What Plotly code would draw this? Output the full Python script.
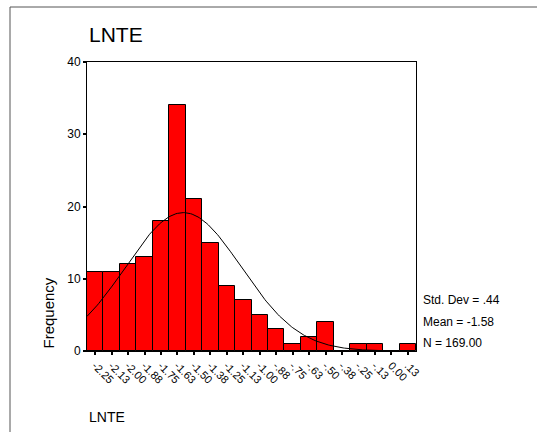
import math
import plotly.graph_objects as go

# ---- data ----
bin_centers = [-2.25, -2.125, -2.0, -1.875, -1.75, -1.625, -1.5, -1.375, -1.25, -1.125,
               -1.0, -0.875, -0.75, -0.625, -0.5, -0.375, -0.25, -0.125, 0.0, 0.125]
tick_labels = ["-2.25", "-2.13", "-2.00", "-1.88", "-1.75", "-1.63", "-1.50", "-1.38", "-1.25", "-1.13",
               "-1.00", "-.88", "-.75", "-.63", "-.50", "-.38", "-.25", "-.13", "0.00", ".13"]
frequencies = [11, 11, 12, 13, 18, 34, 21, 15, 9, 7, 5, 3, 1, 2, 4, 0, 1, 1, 0, 1]
BIN_WIDTH = 0.125
MEAN = -1.58
STD_DEV = 0.44
N = 169
y_ticks = [0, 10, 20, 30, 40]

# normal curve defined by the displayed statistics
curve_x = []
curve_y = []
x0 = bin_centers[0] - BIN_WIDTH / 2
x_end = -0.0625
steps = 200
for i in range(steps + 1):
    x = x0 + (x_end - x0) * i / steps
    z = (x - MEAN) / STD_DEV
    curve_x.append(x)
    curve_y.append(N * BIN_WIDTH / (STD_DEV * math.sqrt(2 * math.pi)) * math.exp(-0.5 * z * z))

FONT = "Liberation Sans, Arial, sans-serif"
W, H = 537, 432
L, R, T, B = 87, 416, 62, 351
pw, ph = R - L, B - T


def px(x):
    return (x - L) / pw


def py(y):
    return (B - y) / ph


fig = go.Figure()
fig.add_trace(go.Bar(x=bin_centers, y=frequencies, width=BIN_WIDTH,
                     marker=dict(color="#FF0000", line=dict(color="black", width=1)),
                     hoverinfo="x+y"))
fig.add_trace(go.Scatter(x=curve_x, y=curve_y, mode="lines",
                         line=dict(color="black", width=1), hoverinfo="skip"))

fig.update_layout(
    width=W, height=H,
    margin=dict(l=L, r=W - R, t=T, b=H - B, pad=0),
    paper_bgcolor="white", plot_bgcolor="white",
    showlegend=False, bargap=0,
    font=dict(family=FONT, color="black", size=12),
    xaxis=dict(range=[bin_centers[0] - BIN_WIDTH / 2, bin_centers[-1] + BIN_WIDTH / 2],
               tickvals=bin_centers, ticktext=tick_labels, tickangle=45,
               ticks="outside", ticklen=3, tickwidth=2, tickcolor="black",
               tickfont=dict(size=11, family=FONT),
               showline=True, linecolor="black", linewidth=1, mirror=True,
               showgrid=False, zeroline=False, fixedrange=True),
    yaxis=dict(range=[0, 40], tickvals=y_ticks,
               ticks="outside", ticklen=3, tickwidth=2, tickcolor="black",
               tickfont=dict(size=12, family=FONT),
               showline=True, linecolor="black", linewidth=1, mirror=True,
               showgrid=False, zeroline=False, fixedrange=True),
)

# outer frame
fig.add_shape(type="rect", xref="paper", yref="paper",
              x0=px(10), x1=px(W + 10), y0=py(H + 10), y1=py(7),
              line=dict(color="#555555", width=1), fillcolor="rgba(0,0,0,0)", layer="below")

ann = []
ann.append(dict(text="LNTE", x=px(87), y=py(35), xanchor="left", yanchor="middle",
                font=dict(size=21, family=FONT)))
ann.append(dict(text="LNTE", x=px(87), y=py(417), xanchor="left", yanchor="middle",
                font=dict(size=14, family=FONT)))
ann.append(dict(text="Frequency", x=px(48), y=0, textangle=-90, xanchor="center",
                yanchor="bottom", font=dict(size=15, family=FONT)))
ann.append(dict(text="Std. Dev = .44", x=px(421), y=py(300), xanchor="left", yanchor="middle",
                font=dict(size=12, family=FONT)))
ann.append(dict(text="Mean = -1.58", x=px(421), y=py(322), xanchor="left", yanchor="middle",
                font=dict(size=12, family=FONT)))
ann.append(dict(text="N = 169.00", x=px(421), y=py(343), xanchor="left", yanchor="middle",
                font=dict(size=12, family=FONT)))
for a in ann:
    a.update(xref="paper", yref="paper", showarrow=False)
fig.update_layout(annotations=ann)

fig.write_html("out.html", config={"displayModeBar": False},
               post_script="document.body.style.margin='0';document.body.style.overflow='hidden';")
